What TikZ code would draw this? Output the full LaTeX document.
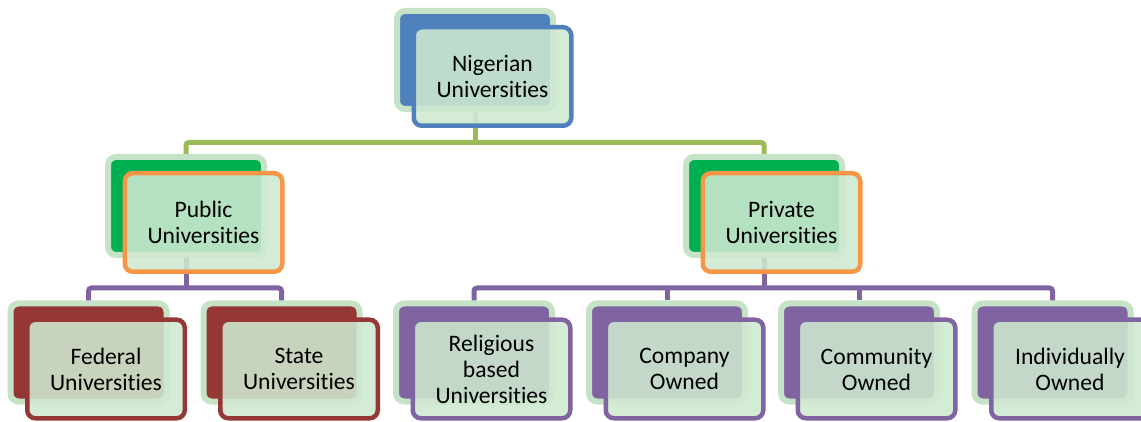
\documentclass[tikz,border=0pt]{standalone}
\usepackage{fontspec}
\setmainfont{Carlito}[Ligatures=NoCommon]
\usepackage{tikz}

\definecolor{glow}{RGB}{198,227,200}
\definecolor{frontfill}{RGB}{206,233,208}
\definecolor{topblue}{RGB}{79,129,189}
\definecolor{midgreen}{RGB}{0,176,80}
\definecolor{midorange}{RGB}{247,150,70}
\definecolor{lowred}{RGB}{149,55,53}
\definecolor{lowpurple}{RGB}{128,100,162}
\definecolor{linkgreen}{RGB}{155,187,89}

\begin{document}
\begin{tikzpicture}[x=0.5pt, y=-0.5pt, font=\fontsize{11.8}{13}\selectfont,
  back/.style={rectangle, rounded corners=4pt, draw=glow, line width=3pt, inner sep=0pt, minimum width=78pt, minimum height=49pt},
  front/.style={rectangle, rounded corners=4pt, fill=frontfill, fill opacity=0.88, text opacity=1, line width=2.25pt, inner sep=0pt, minimum width=78.75pt, minimum height=49.25pt, align=center},
  link/.style={line width=2.5pt, rounded corners=1.5pt},
  off/.style={shift={(8.75pt,-8.25pt)}}]

\useasboundingbox (0,0) rectangle (1141,422);
\clip (0,0) rectangle (1141,422);

% back blocks
\node[back, fill=topblue] (nig-b) at (475,60) {};
\node[back, fill=midgreen] (pub-b) at (186,206) {};
\node[back, fill=midgreen] (priv-b) at (764,206) {};
\node[back, fill=lowred] (fed-b) at (88.5,352.5) {};
\node[back, fill=lowred] (state-b) at (281.5,352.5) {};
\node[back, fill=lowpurple] (rel-b) at (474,352.5) {};
\node[back, fill=lowpurple] (comp-b) at (667,352.5) {};
\node[back, fill=lowpurple] (comm-b) at (859,352.5) {};
\node[back, fill=lowpurple] (indiv-b) at (1052.5,352.5) {};

% connectors
\coordinate (bus1) at (475,142.5);
\coordinate (bus2) at (186,288);
\coordinate (bus3) at (764,288);
\draw[link, linkgreen] (nig-b.south) -- (bus1);
\draw[link, linkgreen] (pub-b.north) |- (bus1) -| (priv-b.north);
\draw[link, lowpurple] (pub-b.south) -- (bus2);
\draw[link, lowpurple] (fed-b.north) |- (bus2) -| (state-b.north);
\draw[link, lowpurple] (priv-b.south) -- (bus3);
\draw[link, lowpurple] (rel-b.north) |- (bus3) -| (indiv-b.north);
\draw[link, lowpurple] (comp-b.north) -- (comp-b.north |- bus3);
\draw[link, lowpurple] (comm-b.north) -- (comm-b.north |- bus3);

% front boxes
\node[front, draw=topblue] (nig) at ([off]nig-b.center) {Nigerian\\Universities};
\node[front, draw=midorange] (pub) at ([off]pub-b.center) {Public\\Universities};
\node[front, draw=midorange] (priv) at ([off]priv-b.center) {Private\\Universities};
\node[front, draw=lowred] (fed) at ([off]fed-b.center) {Federal\\Universities};
\node[front, draw=lowred] (state) at ([off]state-b.center) {State\\Universities};
\node[front, draw=lowpurple] (rel) at ([off]rel-b.center) {Religious\\based\\Universities};
\node[front, draw=lowpurple] (comp) at ([off]comp-b.center) {Company\\Owned};
\node[front, draw=lowpurple] (comm) at ([off]comm-b.center) {Community\\Owned};
\node[front, draw=lowpurple] (indiv) at ([off]indiv-b.center) {Individually\\Owned};

\end{tikzpicture}
\end{document}
